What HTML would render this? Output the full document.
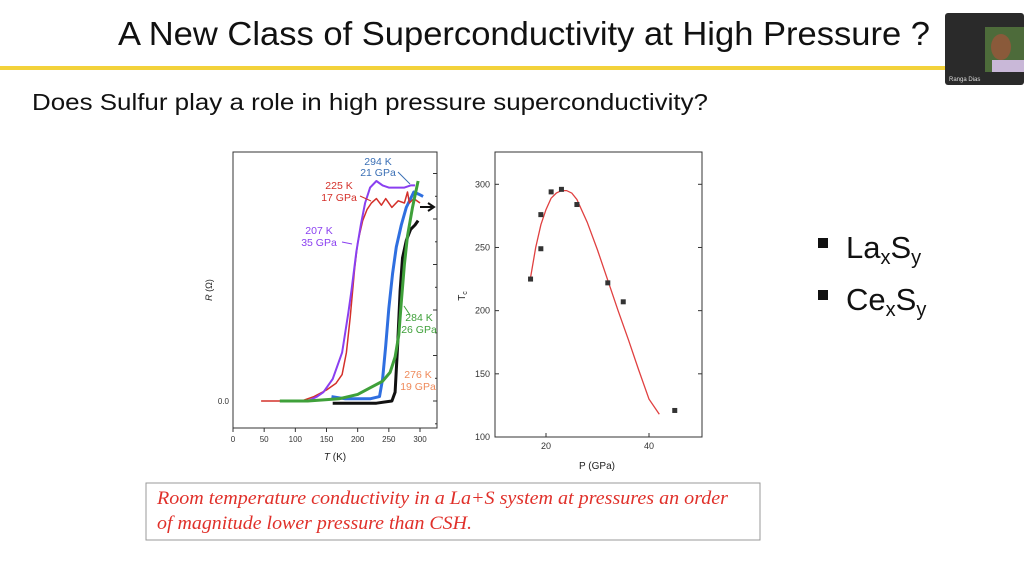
<!DOCTYPE html>
<html><head><meta charset="utf-8"><style>
html,body{margin:0;padding:0;background:#fff;}
svg{display:block;font-family:"Liberation Sans",sans-serif;}
</style></head><body>
<svg width="1024" height="575" viewBox="0 0 1024 575" xmlns="http://www.w3.org/2000/svg">
<text x="118" y="45" font-size="33" fill="#111" textLength="812" lengthAdjust="spacingAndGlyphs">A New Class of Superconductivity at High Pressure ?</text>
<rect x="0" y="66" width="945" height="4" fill="#f3d23a"/>
<g>
<rect x="945" y="13" width="79" height="72" rx="3" fill="#2a2a2a"/>
<rect x="985" y="27" width="39" height="45" fill="#4d6b3a"/>
<ellipse cx="1001" cy="47" rx="10" ry="13" fill="#8a5a3a"/>
<rect x="992" y="60" width="32" height="12" fill="#c9b8d8"/>
<text x="949" y="81" font-size="6" fill="#ddd">Ranga Dias</text>
</g>
<text x="32" y="110" font-size="23" fill="#111" textLength="676" lengthAdjust="spacingAndGlyphs">Does Sulfur play a role in high pressure superconductivity?</text>

<g id="left"></g>
<g id="right"></g>

<g>
<rect x="818" y="238" width="10" height="10" fill="#111"/>
<text x="846" y="258" font-size="31" fill="#111">La<tspan font-size="20" dy="6">x</tspan><tspan dy="-6">S</tspan><tspan font-size="20" dy="6">y</tspan></text>
<rect x="818" y="290" width="10" height="10" fill="#111"/>
<text x="846" y="310" font-size="31" fill="#111">Ce<tspan font-size="20" dy="6">x</tspan><tspan dy="-6">S</tspan><tspan font-size="20" dy="6">y</tspan></text>
</g>

<g>
<rect x="146" y="483" width="614" height="57" fill="#fff" stroke="#999" stroke-width="1"/>
<text font-family="Liberation Serif,serif" font-style="italic" font-size="19" fill="#e0302a">
<tspan x="157" y="504" textLength="571" lengthAdjust="spacingAndGlyphs">Room temperature conductivity in a La+S system at pressures an order</tspan>
<tspan x="157" y="529" textLength="315" lengthAdjust="spacingAndGlyphs">of magnitude lower pressure than CSH.</tspan></text>
</g>
</svg>
<script>
// ---- Left chart data: R(T) curves (R normalized) ----
const purpleT=[120,135,145,160,175,185,190,198,205,212,220,230,240,250,260,275,285,292];
const purpleR=[0,0.02,0.04,0.1,0.22,0.4,0.5,0.68,0.8,0.9,0.97,1.0,0.98,0.97,0.97,0.97,0.98,0.98];
const redT=[45,80,110,130,150,165,175,182,188,195,200,208,215,222,230,238,245,255,265,275,280,283,290,300];
const redR=[0,0,0,0.02,0.05,0.08,0.12,0.22,0.38,0.6,0.72,0.82,0.87,0.9,0.92,0.89,0.92,0.88,0.91,0.9,0.95,0.9,0.92,0.9];
const blueT=[158,180,200,220,235,240,245,250,256,262,270,278,285,290,298,305];
const blueR=[0.02,0.01,0.01,0.01,0.02,0.1,0.25,0.42,0.58,0.7,0.8,0.88,0.92,0.95,0.94,0.93];
const greenT=[75,120,170,200,220,240,252,260,266,270,275,280,288,297];
const greenR=[0,0,0.01,0.03,0.06,0.09,0.13,0.2,0.3,0.45,0.62,0.75,0.88,1.0];
const blackT=[160,200,230,255,260,264,268,272,278,285,292,297];
const blackR=[-0.01,-0.01,-0.01,0,0.04,0.25,0.5,0.65,0.73,0.78,0.8,0.82];
const tTicks=[0,50,100,150,200,250,300];
// ---- Right chart data ----
const pVals=[17,19,19,21,23,26,32,35,45];
const tcVals=[225,276,249,294,296,284,222,207,121];
const fitP=[17,18,19,20,21,22,23,24,25,26,28,30,32,34,36,38,40,42];
const fitTc=[226,250,268,280,289,293,295,295,293,288,270,248,224,200,177,153,130,118];
const pTicks=[20,40];
const tcTicks=[100,150,200,250,300];

const NS="http://www.w3.org/2000/svg";
function mk(tag,attrs,parent){const e=document.createElementNS(NS,tag);for(const k in attrs)e.setAttribute(k,attrs[k]);parent.appendChild(e);return e;}

// Left axes
const L=document.getElementById('left');
const lx=t=>233+t*(187/300);
const ly=r=>401-r*220;
mk('rect',{x:233,y:152,width:204,height:276,fill:'none',stroke:'#333','stroke-width':1},L);
tTicks.forEach(t=>{
  const tk=mk('line',{x1:lx(t),x2:lx(t),y1:428,y2:432,stroke:'#333'},L);
  
  
  const tx=mk('text',{x:lx(t),y:442,'font-size':8,'text-anchor':'middle',fill:'#333'},L);
  tx.textContent=t;
  
  
});
for(let i=-1;i<6;i++){const yy=ly(0)-i*45.5;if(yy>152&&yy<428)mk('line',{x1:437,x2:433,y1:yy,y2:yy,stroke:'#333'},L);
  const ym=yy-22.7;if(ym>152&&ym<428)mk('line',{x1:437,x2:435,y1:ym,y2:ym,stroke:'#333'},L);}
const zl=mk('text',{x:229,y:404,'font-size':8,'text-anchor':'end',fill:'#333'},L);zl.textContent='0.0';


const xt=mk('text',{x:335,y:460,'font-size':10,'text-anchor':'middle',fill:'#222'},L);
xt.innerHTML='<tspan font-style="italic">T</tspan> (K)';


const yt=mk('text',{x:0,y:0,'font-size':9,'text-anchor':'middle',fill:'#222',transform:'translate(212,290) rotate(-90)'},L);
yt.innerHTML='<tspan font-style="italic">R</tspan> (Ω)';


function curve(T,R,color,name,w){
  const d=T.map((t,i)=>(i?'L':'M')+lx(t).toFixed(1)+','+ly(R[i]).toFixed(1)).join(' ');
  const p=mk('path',{d:d,fill:'none',stroke:color,'stroke-width':w,'stroke-linejoin':'round'},L);
  
  
}
curve(blackT,blackR,'#111','curve-276k-19gpa',3);
curve(blueT,blueR,'#2f6fe0','curve-294k-21gpa',3);
curve(redT,redR,'#d4302a','curve-225k-17gpa',1.5);
curve(purpleT,purpleR,'#8a3ff0','curve-207k-35gpa',2);
curve(greenT,greenR,'#3fa03a','curve-284k-26gpa',3);
mk('path',{d:'M420,207 L432,207 M428,203 L434,207 L428,211',stroke:'#111','stroke-width':2,fill:'none'},L);
function lab(x,y,txt,c){const t=mk('text',{x:x,y:y,'font-size':10.5,'text-anchor':'middle',fill:c},L);t.textContent=txt;
  
  }
lab(378,165,'294 K','#3a6fb5');lab(378,176,'21 GPa','#3a6fb5');
lab(339,189,'225 K','#d4302a');lab(339,201,'17 GPa','#d4302a');
lab(319,234,'207 K','#8a3ff0');lab(319,246,'35 GPa','#8a3ff0');
lab(419,321,'284 K','#3fa03a');lab(419,333,'26 GPa','#3fa03a');
lab(418,378,'276 K','#ef8a5a');lab(418,390,'19 GPa','#ef8a5a');
mk('line',{x1:360,y1:196,x2:371,y2:201,stroke:'#d4302a'},L);
mk('line',{x1:342,y1:242,x2:352,y2:244,stroke:'#8a3ff0'},L);
mk('line',{x1:398,y1:172,x2:410,y2:184,stroke:'#3a6fb5'},L);
mk('line',{x1:410,y1:315,x2:404,y2:306,stroke:'#3fa03a'},L);

// Right axes
const R=document.getElementById('right');
const px=p=>494.5+(p-10)*5.15;
const py=v=>437-(v-100)*(252.7/200);
mk('rect',{x:495,y:152,width:207,height:285,fill:'none',stroke:'#333','stroke-width':1},R);
pTicks.forEach(p=>{
  mk('line',{x1:px(p),x2:px(p),y1:437,y2:433,stroke:'#333'},R);
  const t=mk('text',{x:px(p),y:449,'font-size':9,'text-anchor':'middle',fill:'#333'},R);t.textContent=p;
  
  
});
tcTicks.forEach(v=>{
  mk('line',{x1:495,x2:499,y1:py(v),y2:py(v),stroke:'#333'},R);
  mk('line',{x1:702,x2:698,y1:py(v),y2:py(v),stroke:'#333'},R);
  const t=mk('text',{x:490,y:py(v)+3,'font-size':9,'text-anchor':'end',fill:'#333'},R);t.textContent=v;
  
  
});
const rxt=mk('text',{x:597,y:469,'font-size':10,'text-anchor':'middle',fill:'#222'},R);rxt.textContent='P (GPa)';


const ryt=mk('text',{x:0,y:0,'font-size':10,'text-anchor':'middle',fill:'#222',transform:'translate(465,296) rotate(-90)'},R);
ryt.innerHTML='T<tspan font-size="7" dy="2">c</tspan>';


const fd=fitP.map((p,i)=>(i?'L':'M')+px(p).toFixed(1)+','+py(fitTc[i]).toFixed(1)).join(' ');
const fit=mk('path',{d:fd,fill:'none',stroke:'#e04040','stroke-width':1.3},R);


pVals.forEach((p,i)=>{
  const r=mk('rect',{x:px(p)-2.5,y:py(tcVals[i])-2.5,width:5,height:5,fill:'#333'},R);
  
  
});
</script>
</body></html>
